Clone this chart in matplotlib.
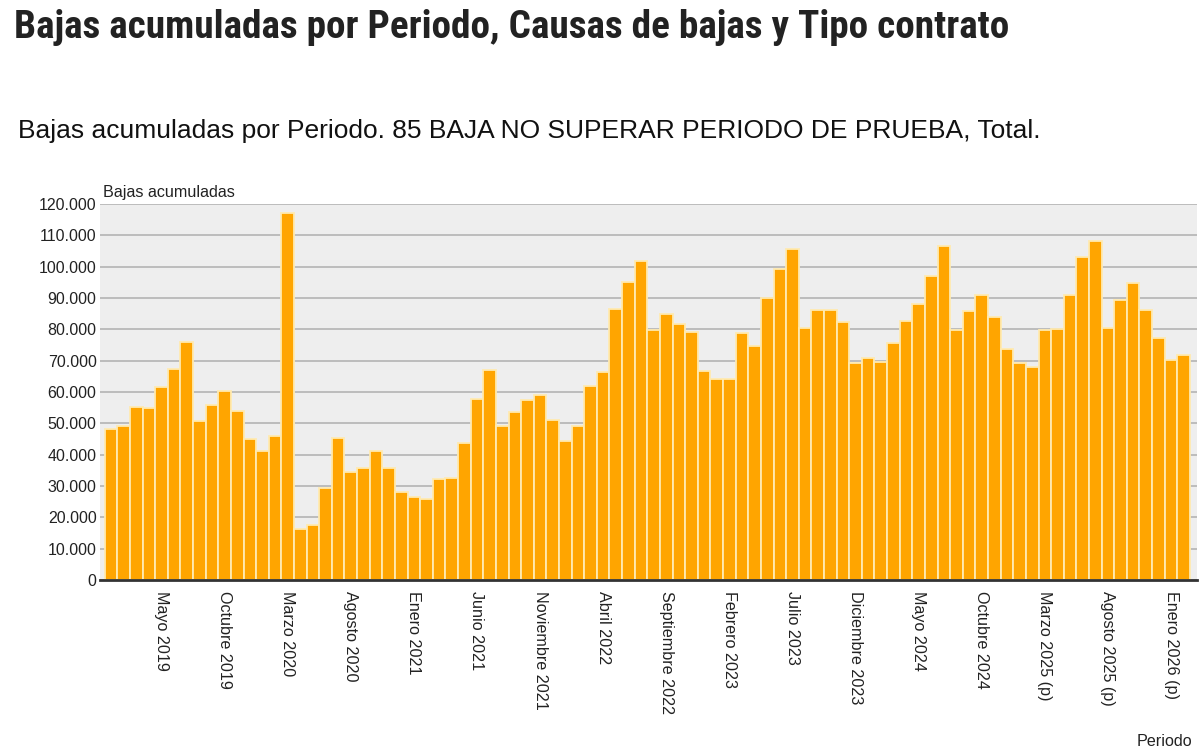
import matplotlib
matplotlib.use("Agg")
import matplotlib.pyplot as plt
from matplotlib.ticker import FuncFormatter, MultipleLocator

months = ["Enero", "Febrero", "Marzo", "Abril", "Mayo", "Junio", "Julio",
          "Agosto", "Septiembre", "Octubre", "Noviembre", "Diciembre"]

periods = []
for y in range(2019, 2027):
    for m in range(12):
        if y == 2026 and m > 1:
            break
        lab = f"{months[m]} {y}"
        if y >= 2025:
            lab += " (p)"
        periods.append(lab)

values = [
    48200, 49100, 55200, 54900, 61600, 67500, 75800, 50700, 55800, 60300, 53800, 45000,
    41100, 46100, 117000, 16400, 17700, 29400, 45400, 34500, 35600, 41100, 35600, 28200,
    26400, 26000, 32300, 32700, 43700, 57800, 67000, 49100, 53700, 57500, 59100, 51100,
    44400, 49100, 62000, 66300, 86400, 95100, 101800, 79700, 85000, 81800, 79200, 66700,
    64200, 64200, 78800, 74700, 89900, 99400, 105500, 80300, 86300, 86300, 82200, 69200,
    70700, 69700, 75500, 82600, 88000, 96900, 106500, 79700, 85900, 91000, 83900, 73800,
    69200, 68000, 79700, 80200, 91000, 103100, 108200, 80400, 89300, 94700, 86300, 77200,
    70200, 71800,
]

tick_idx = list(range(4, len(periods), 5))
tick_labels = [periods[i] for i in tick_idx]

title = "Bajas acumuladas por Periodo, Causas de bajas y Tipo contrato"
subtitle = "Bajas acumuladas por Periodo. 85 BAJA NO SUPERAR PERIODO DE PRUEBA, Total."

plt.rcParams['font.family'] = ['Liberation Sans', 'DejaVu Sans']

fig = plt.figure(figsize=(12, 7.54), dpi=100)
ax = fig.add_axes([100/1200, 1 - 580/754, 1097/1200, 376/754])
ax.set_facecolor("#eeeeee")

x = list(range(len(values)))
ax.bar(x, values, width=1.0, color="#ffa500", edgecolor="#ffeab0",
       linewidth=1.3, zorder=3)

ax.set_xlim(-0.872, 86.06)
ax.set_ylim(0, 120000)
ax.yaxis.set_major_locator(MultipleLocator(10000))
ax.yaxis.set_major_formatter(FuncFormatter(lambda v, p: f"{int(v):,}".replace(",", ".")))
ax.grid(axis="y", color="#b4b4b4", linewidth=1.2, zorder=1)
ax.set_axisbelow(True)

for s in ["top", "right", "left"]:
    ax.spines[s].set_visible(False)
ax.spines["bottom"].set_color("#333333")
ax.spines["bottom"].set_linewidth(2)
ax.spines["bottom"].set_zorder(4)

ax.set_xticks(tick_idx)
ax.set_xticklabels(tick_labels, rotation=270, ha="center", va="top",
                   fontsize=11.6, color="#222222")
ax.tick_params(axis="x", length=0, pad=8)
ax.tick_params(axis="y", length=0, labelsize=11.5, labelcolor="#222222", pad=2.5)

fig.text(103/1200, 1 - 192/754, "Bajas acumuladas", fontsize=11.6, color="#222222",
         ha="left", va="center")
fig.text(1192/1200, 1 - 741/754, "Periodo", fontsize=11.6, color="#222222",
         ha="right", va="center")

fig.text(14/1200, 1 - 28/754, title, fontsize=28.3, fontweight="bold",
         family=["Roboto Condensed", "Roboto", "DejaVu Sans"], fontstretch="condensed",
         color="#222222", ha="left", va="center")
fig.text(18/1200, 1 - 131/754, subtitle, fontsize=19, color="#111111",
         ha="left", va="center")

fig.savefig("out.png", dpi=100)
